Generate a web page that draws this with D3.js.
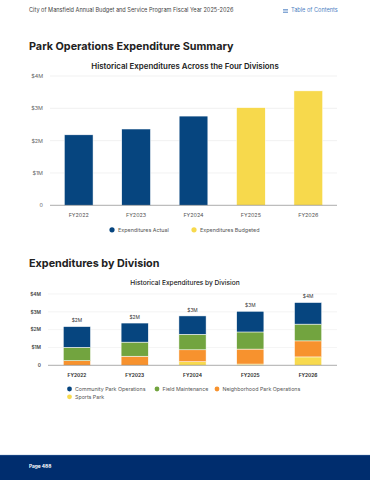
<!DOCTYPE html>
<html>
<head>
<meta charset="utf-8">
<script src="https://cdn.jsdelivr.net/npm/d3@7"></script>
<style>
  body { margin: 0; background: #fff; }
  svg { display: block; font-family: Inter, "Noto Sans", sans-serif; }
</style>
</head>
<body>
<svg width="370" height="480"></svg>
<script>
// chart 1 data
const years = ['FY2022', 'FY2023', 'FY2024', 'FY2025', 'FY2026'];
const totals = [2.18, 2.36, 2.76, 3.02, 3.54];
const budgeted = [false, false, false, true, true];
const yTicks = [0, 1, 2, 3, 4];

// chart 2 data (in $M)
const divisions = ['Community Park Operations', 'Field Maintenance', 'Neighborhood Park Operations', 'Sports Park'];
const community = [1.16, 1.07, 1.03, 1.16, 1.21];
const field = [0.75, 0.79, 0.87, 0.96, 0.94];
const neighborhood = [0.26, 0.51, 0.67, 0.84, 0.90];
const sports = [0.0, 0.0, 0.20, 0.07, 0.47];
const totalLabels = ['$2M', '$2M', '$3M', '$3M', '$4M'];

const navy = '#06457f';
const yellow = '#f7d94c';
const divColors = { 'Community Park Operations': navy, 'Field Maintenance': '#72a43f', 'Neighborhood Park Operations': '#f7922e', 'Sports Park': '#f8da4e' };

const svg = d3.select('svg');

// page header
svg.append('text')
    .attr('x', 29).attr('y', 12)
    .attr('font-size', 5.6).attr('fill', '#444')
    .text('City of Mansfield Annual Budget and Service Program Fiscal Year 2025-2026');

const toc = svg.append('g').attr('fill', '#4f82c3');
[0, 1.6, 3.2].forEach(d => toc.append('rect').attr('x', 283).attr('y', 9 + d).attr('width', 5).attr('height', 0.7));
toc.append('text').attr('x', 291).attr('y', 12.2).attr('font-size', 5.6).text('Table of Contents');

// section headings
svg.append('text')
    .attr('x', 29).attr('y', 50)
    .attr('font-size', 10.8).attr('font-weight', 700).attr('fill', '#222')
    .text('Park Operations Expenditure Summary');

svg.append('text')
    .attr('x', 29).attr('y', 266.5)
    .attr('font-size', 10.8).attr('font-weight', 700).attr('fill', '#222')
    .text('Expenditures by Division');

// ---------- chart 1 ----------
const x1 = d3.scaleBand().domain(years).range([50, 337]).paddingInner(0.5).paddingOuter(0.25);
const y1 = d3.scaleLinear().domain([0, 4]).range([205.3, 76]);

svg.append('text')
    .attr('x', 185).attr('y', 68.5)
    .attr('text-anchor', 'middle')
    .attr('font-size', 7.9).attr('font-weight', 600).attr('fill', '#222')
    .text('Historical Expenditures Across the Four Divisions');

const g1 = svg.append('g');
g1.selectAll('line.grid')
    .data(yTicks.slice(1))
    .enter().append('line')
    .attr('x1', 50).attr('x2', 337)
    .attr('y1', d => y1(d)).attr('y2', d => y1(d))
    .attr('stroke', '#e8e8e8').attr('stroke-width', 0.6);

g1.selectAll('text.ytick')
    .data(yTicks)
    .enter().append('text')
    .attr('x', 43).attr('y', d => y1(d) + 2)
    .attr('text-anchor', 'end')
    .attr('font-size', 5.4).attr('fill', '#666')
    .text(d => d === 0 ? '0' : `$${d}M`);

g1.selectAll('rect')
    .data(years)
    .enter().append('rect')
    .attr('x', d => x1(d))
    .attr('width', x1.bandwidth())
    .attr('y', (d, i) => y1(totals[i]))
    .attr('height', (d, i) => y1(0) - y1(totals[i]))
    .attr('fill', (d, i) => budgeted[i] ? yellow : navy)
    .attr('stroke', '#fff').attr('stroke-width', 0.5);

g1.append('line')
    .attr('x1', 50).attr('x2', 337)
    .attr('y1', y1(0)).attr('y2', y1(0))
    .attr('stroke', '#888').attr('stroke-width', 0.7);

g1.selectAll('text.xtick')
    .data(years)
    .enter().append('text')
    .attr('x', d => x1(d) + x1.bandwidth() / 2)
    .attr('y', 217)
    .attr('text-anchor', 'middle')
    .attr('font-size', 5.4).attr('fill', '#555')
    .text(d => d);

const leg1 = [['Expenditures Actual', navy, 112], ['Expenditures Budgeted', yellow, 194]];
leg1.forEach(([label, color, lx]) => {
    svg.append('circle').attr('cx', lx).attr('cy', 229.8).attr('r', 2.6).attr('fill', color);
    svg.append('text').attr('x', lx + 6).attr('y', 231.8)
        .attr('font-size', 5.4).attr('fill', '#555').text(label);
});

// ---------- chart 2 ----------
const x2 = d3.scaleBand().domain(years).range([48, 337]).paddingInner(0.53).paddingOuter(0.265);
const y2 = d3.scaleLinear().domain([0, 4]).range([365.3, 294]);

svg.append('text')
    .attr('x', 185).attr('y', 285)
    .attr('text-anchor', 'middle')
    .attr('font-size', 6.6).attr('font-weight', 500).attr('fill', '#222')
    .text('Historical Expenditures by Division');

const g2 = svg.append('g');
g2.selectAll('line.grid')
    .data(yTicks.slice(1))
    .enter().append('line')
    .attr('x1', 48).attr('x2', 337)
    .attr('y1', d => y2(d)).attr('y2', d => y2(d))
    .attr('stroke', '#ececec').attr('stroke-width', 0.6);

g2.selectAll('text.ytick')
    .data(yTicks)
    .enter().append('text')
    .attr('x', 41).attr('y', d => y2(d) + 1.8)
    .attr('text-anchor', 'end')
    .attr('font-size', 4.8).attr('font-weight', 600).attr('fill', '#444')
    .text(d => d === 0 ? '0' : `$${d}M`);

const rows = years.map((yr, i) => ({
    year: yr,
    'Community Park Operations': community[i],
    'Field Maintenance': field[i],
    'Neighborhood Park Operations': neighborhood[i],
    'Sports Park': sports[i]
}));

// sports park sits at the bottom of each stack
const stack = d3.stack().keys(divisions.slice().reverse());
const series = stack(rows);

g2.selectAll('g.layer')
    .data(series)
    .enter().append('g')
    .attr('fill', d => divColors[d.key])
    .selectAll('rect')
    .data(d => d)
    .enter().append('rect')
    .attr('x', d => x2(d.data.year))
    .attr('width', x2.bandwidth())
    .attr('y', d => y2(d[1]))
    .attr('height', d => Math.max(0, y2(d[0]) - y2(d[1])))
    .attr('stroke', '#fff').attr('stroke-width', 0.5);

g2.append('line')
    .attr('x1', 48).attr('x2', 337)
    .attr('y1', y2(0)).attr('y2', y2(0))
    .attr('stroke', '#888').attr('stroke-width', 0.7);

g2.selectAll('text.total')
    .data(rows)
    .enter().append('text')
    .attr('x', d => x2(d.year) + x2.bandwidth() / 2)
    .attr('y', (d, i) => y2(totals[i]) - 4.2)
    .attr('text-anchor', 'middle')
    .attr('font-size', 4.8).attr('fill', '#333')
    .text((d, i) => totalLabels[i]);

g2.selectAll('text.xtick')
    .data(years)
    .enter().append('text')
    .attr('x', d => x2(d) + x2.bandwidth() / 2)
    .attr('y', 376.8)
    .attr('text-anchor', 'middle')
    .attr('font-size', 4.8).attr('font-weight', 700).attr('fill', '#333')
    .text(d => d);

const leg2 = [
    [divisions[0], 69.5, 389],
    [divisions[1], 157, 389],
    [divisions[2], 217, 389],
    [divisions[3], 69.5, 396.8]
];
leg2.forEach(([label, lx, ly]) => {
    svg.append('circle').attr('cx', lx).attr('cy', ly).attr('r', 2.4).attr('fill', divColors[label]);
    svg.append('text').attr('x', lx + 5.5).attr('y', ly + 1.8)
        .attr('font-size', 5.3).attr('fill', '#555').text(label);
});

// footer band
svg.append('rect').attr('x', 0).attr('y', 455).attr('width', 370).attr('height', 25).attr('fill', '#002d6e');
svg.append('line').attr('x1', 0).attr('x2', 370).attr('y1', 455.3).attr('y2', 455.3).attr('stroke', '#2f5d99').attr('stroke-width', 0.6);
svg.append('text')
    .attr('x', 29).attr('y', 467.5)
    .attr('font-size', 4.8).attr('font-weight', 700).attr('fill', '#fff')
    .text('Page 488');
</script>
</body>
</html>
